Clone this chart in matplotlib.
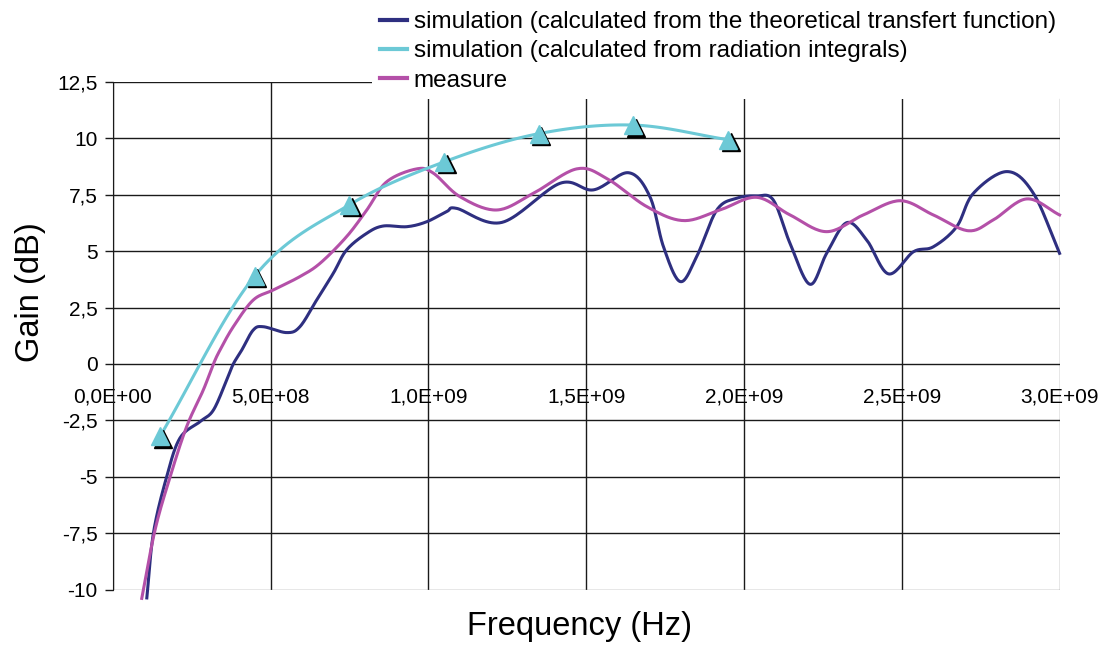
import numpy as np
import matplotlib
matplotlib.use("Agg")
import matplotlib.pyplot as plt
from matplotlib.lines import Line2D
from matplotlib.transforms import offset_copy

plt.rcParams['font.family'] = ['Liberation Sans', 'DejaVu Sans']

# frequencies in GHz (scaled to Hz when plotted), gain in dB
rad_f = [0.15, 0.45, 0.75, 1.05, 1.35, 1.65, 1.95]
rad_g = [-3.2, 3.9, 7.05, 8.95, 10.2, 10.58, 9.93]

theo_f = [0.108, 0.129, 0.171, 0.213, 0.277, 0.319, 0.361, 0.382, 0.409, 0.445,
          0.477, 0.551, 0.593, 0.646, 0.699, 0.741, 0.805, 0.857, 0.932, 0.995,
          1.058, 1.090, 1.233, 1.417, 1.523, 1.634, 1.702, 1.745, 1.798, 1.850,
          1.914, 1.977, 2.040, 2.093, 2.146, 2.209, 2.262, 2.326, 2.389, 2.458,
          2.537, 2.600, 2.674, 2.727, 2.833, 2.917, 3.000]
theo_g = [-10.36, -7.48, -4.99, -3.28, -2.55, -2.04, -0.71, 0.0, 0.62, 1.5,
          1.65, 1.39, 1.65, 2.83, 4.02, 5.05, 5.79, 6.11, 6.08, 6.3,
          6.75, 6.89, 6.27, 8.0, 7.71, 8.47, 7.41, 5.19, 3.65, 4.75,
          6.82, 7.34, 7.44, 7.26, 5.34, 3.53, 4.9, 6.26, 5.49, 3.99,
          4.97, 5.19, 6.08, 7.56, 8.52, 7.56, 4.9]

meas_f = [0.092, 0.134, 0.182, 0.234, 0.287, 0.319, 0.340, 0.382, 0.445, 0.509,
          0.593, 0.657, 0.741, 0.805, 0.868, 0.963, 1.016, 1.100, 1.217, 1.333,
          1.470, 1.565, 1.692, 1.808, 1.924, 2.040, 2.146, 2.262, 2.378, 2.495,
          2.600, 2.711, 2.790, 2.896, 3.000]
meas_g = [-10.38, -7.35, -4.99, -2.78, -1.15, 0.0, 0.62, 1.65, 2.83, 3.28,
          3.87, 4.46, 5.64, 6.82, 8.07, 8.64, 8.45, 7.41, 6.82, 7.56,
          8.64, 8.22, 6.97, 6.35, 6.82, 7.38, 6.6, 5.86, 6.6, 7.23,
          6.6, 5.9, 6.38, 7.31, 6.6]

labels = ["simulation (calculated from the theoretical transfert function)",
          "simulation (calculated from radiation integrals)",
          "measure"]
c_theo, c_rad, c_meas = "#2E2F80", "#6CC9D6", "#B450A8"


def smooth(xs, ys, n=20):
    # Catmull-Rom curve through the points, like a spreadsheet "smoothed line"
    p = np.column_stack([xs, ys]).astype(float)
    p = np.vstack([2 * p[0] - p[1], p, 2 * p[-1] - p[-2]])
    out = []
    t = np.linspace(0, 1, n, endpoint=False)[:, None]
    for i in range(1, len(p) - 2):
        p0, p1, p2, p3 = p[i - 1], p[i], p[i + 1], p[i + 2]
        seg = 0.5 * ((2 * p1) + (-p0 + p2) * t + (2 * p0 - 5 * p1 + 4 * p2 - p3) * t ** 2
                     + (-p0 + 3 * p1 - 3 * p2 + p3) * t ** 3)
        out.append(seg)
    out.append(p[-2][None, :])
    out = np.vstack(out)
    return out[:, 0], out[:, 1]


fig = plt.figure(figsize=(11.02, 6.45), dpi=100)
ax = fig.add_axes([0.1023, 0.0856, 0.8592, 0.7877])

sx, sy = smooth(np.array(theo_f) * 1e9, theo_g)
ax.plot(sx, sy, color=c_theo, lw=2.2, clip_on=False, zorder=3)
sx, sy = smooth(np.array(meas_f) * 1e9, meas_g)
ax.plot(sx, sy, color=c_meas, lw=2.2, clip_on=False, zorder=3)
sx, sy = smooth(np.array(rad_f) * 1e9, rad_g)
ax.plot(sx, sy, color=c_rad, lw=2.2, clip_on=False, zorder=4)

shadow = offset_copy(ax.transData, fig=fig, x=2.5, y=-2.5, units='dots')
ax.plot(np.array(rad_f) * 1e9, rad_g, ls='none', marker='^', ms=13,
        color='black', transform=shadow, clip_on=False, zorder=4)
ax.plot(np.array(rad_f) * 1e9, rad_g, ls='none', marker='^', ms=13,
        color=c_rad, clip_on=False, zorder=5)

ax.set_xlim(0, 3e9)
ax.set_ylim(-10, 12.5)
xt = np.arange(0, 3.01e9, 0.5e9)
ax.set_xticks(xt)
ax.set_xticklabels(["0,0E+00", "5,0E+08", "1,0E+09", "1,5E+09", "2,0E+09", "2,5E+09", "3,0E+09"])
yt = np.arange(-10, 12.6, 2.5)
ax.set_yticks(yt)
ax.set_yticklabels([("%g" % v).replace(".", ",") for v in yt])

ax.grid(True, color="#1a1a1a", lw=1.0)
ax.set_axisbelow(True)
for s in ["top", "right", "bottom"]:
    ax.spines[s].set_visible(False)
ax.spines["left"].set_color("#1a1a1a")
ax.spines["bottom"].set_position(("data", 0))
ax.tick_params(axis="x", length=0, pad=17, labelsize=15)
ax.tick_params(axis="y", length=6, width=1, color="#1a1a1a", pad=5, labelsize=15)
for g in ax.get_xgridlines()[-1:] + ax.get_ygridlines()[:1]:
    g.set_color("#888888")

ax.set_xlabel("Frequency (Hz)", fontsize=23.5)
ax.xaxis.set_label_coords(0.4925, -0.042)
ax.set_ylabel("Gain (dB)", fontsize=23.5)
ax.yaxis.set_label_coords(-0.071, 0.586)

handles = [Line2D([], [], color=c, lw=3) for c in (c_theo, c_rad, c_meas)]
leg = fig.legend(handles, labels, loc="upper left", bbox_to_anchor=(0.338, 0.994),
                 fontsize=17.5, frameon=True, handlelength=1.1, handletextpad=0.3,
                 labelspacing=0.3, borderaxespad=0.0, borderpad=0.3)
leg.get_frame().set_edgecolor("none")
leg.get_frame().set_facecolor("white")
leg.get_frame().set_alpha(1)

fig.savefig("out.png", dpi=100)
